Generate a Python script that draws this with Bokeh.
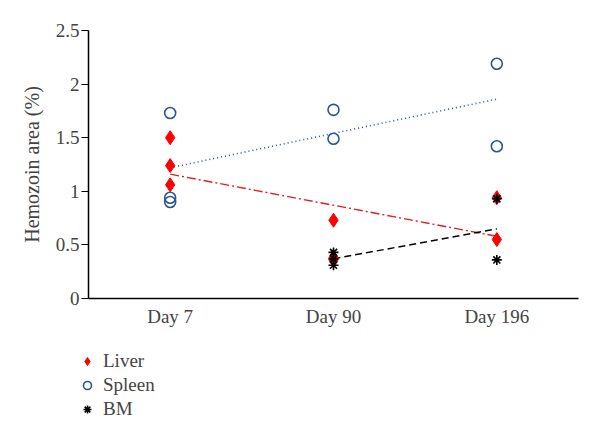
from bokeh.plotting import figure
from bokeh.models import Range1d, FactorRange, FixedTicker, NumeralTickFormatter, Legend, LegendItem
from bokeh.embed import file_html
from bokeh.resources import INLINE

days = ["Day 7", "Day 90", "Day 196"]

liver_day = ["Day 7", "Day 7", "Day 7", "Day 90", "Day 90", "Day 90", "Day 196", "Day 196"]
liver_val = [1.50, 1.24, 1.06, 0.73, 0.38, 0.36, 0.94, 0.55]

spleen_day = ["Day 7", "Day 7", "Day 7", "Day 90", "Day 90", "Day 196", "Day 196"]
spleen_val = [1.73, 0.94, 0.90, 1.76, 1.49, 2.19, 1.42]

bm_day = ["Day 90", "Day 90", "Day 90", "Day 196", "Day 196"]
bm_val = [0.43, 0.37, 0.31, 0.93, 0.36]

spleen_trend_day = ["Day 7", "Day 196"]
spleen_trend_val = [1.22, 1.86]
liver_trend_day = ["Day 7", "Day 196"]
liver_trend_val = [1.16, 0.58]
bm_trend_day = ["Day 90", "Day 196"]
bm_trend_val = [0.37, 0.65]

y_ticks = [0, 0.5, 1, 1.5, 2, 2.5]

FONT = "Liberation Serif"
RED = "#ff0000"
BLUE = "#2a5694"
FS = "19px"

liver_style = dict(marker="diamond", size=14, fill_color=RED, line_color=RED)
spleen_style = dict(marker="circle", size=11, fill_color=None, line_color=BLUE, line_width=1.6)
bm_style = dict(marker="asterisk", size=10, line_color="black", line_width=1.6)

p = figure(width=592, height=330, x_range=FactorRange(*days, range_padding=0),
           y_range=Range1d(0, 2.5), output_backend="svg", toolbar_location=None,
           min_border_left=88, min_border_right=14, min_border_top=30, min_border_bottom=32)
p.outline_line_color = None
p.xgrid.grid_line_color = None
p.ygrid.grid_line_color = None

# trend lines
p.line(spleen_trend_day, spleen_trend_val, line_color=BLUE, line_width=1.6, line_dash="1 3")
p.line(liver_trend_day, liver_trend_val, line_color="#e02020", line_width=1.4, line_dash="9 3 2 3")
p.line(bm_trend_day, bm_trend_val, line_color="black", line_width=1.5, line_dash="7 4")

p.scatter(spleen_day, spleen_val, **spleen_style)
p.scatter(liver_day, liver_val, **liver_style)
p.scatter(bm_day, bm_val, **bm_style)

# axes
p.yaxis.ticker = FixedTicker(ticks=y_ticks)
p.yaxis.formatter = NumeralTickFormatter(format="0.[0]")
p.yaxis.minor_tick_line_color = None
p.yaxis.major_tick_out = 7
p.yaxis.major_tick_in = 0
p.yaxis.major_label_standoff = 2
p.yaxis.axis_label = "Hemozoin area (%)"
p.yaxis.axis_label_text_font = FONT
p.yaxis.axis_label_text_font_style = "normal"
p.yaxis.axis_label_text_font_size = "20px"
p.yaxis.axis_label_standoff = 10
p.yaxis.major_label_text_font = FONT
p.yaxis.major_label_text_font_size = FS
p.yaxis.axis_line_width = 1.5

p.xaxis.major_tick_line_color = None
p.xaxis.minor_tick_line_color = None
p.xaxis.major_label_text_font = FONT
p.xaxis.major_label_text_font_size = FS
p.xaxis.major_label_standoff = 1
p.xaxis.axis_line_width = 1.5

# legend panel (hidden copies of the series feed the legend)
q = figure(width=592, height=100, x_range=FactorRange(*days), y_range=Range1d(-10, -9),
           output_backend="svg", toolbar_location=None, x_axis_type=None, y_axis_type=None,
           min_border=0)
q.outline_line_color = None
q.xgrid.grid_line_color = None
q.ygrid.grid_line_color = None
l1 = q.scatter(liver_day, liver_val, **liver_style)
l2 = q.scatter(spleen_day, spleen_val, **spleen_style)
l3 = q.scatter(bm_day, bm_val, **bm_style)

legend = Legend(items=[LegendItem(label="Liver", renderers=[l1]),
                       LegendItem(label="Spleen", renderers=[l2]),
                       LegendItem(label="BM", renderers=[l3])],
                location=(77, 10), padding=0, margin=0, spacing=2,
                glyph_width=20, glyph_height=20, label_standoff=6,
                label_text_font=FONT, label_text_font_size=FS,
                border_line_color=None, background_fill_alpha=0)
q.add_layout(legend)

open("out.html", "w").write(file_html([p, q], INLINE))
